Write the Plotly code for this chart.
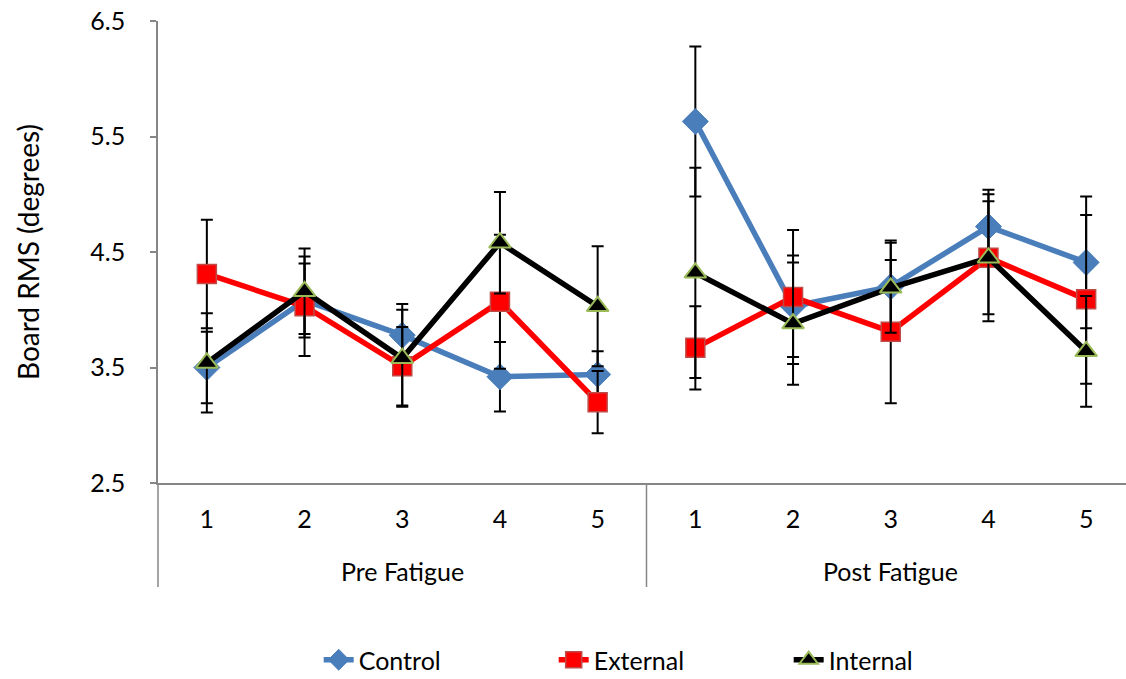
import plotly.graph_objects as go

categories = ["1", "2", "3", "4", "5"]
groups = ["Pre Fatigue", "Post Fatigue"]

control_pre = [3.50, 4.08, 3.78, 3.42, 3.44]
control_post = [5.63, 4.03, 4.20, 4.72, 4.41]
control_pre_err = [0.31, 0.32, 0.27, 0.30, 0.20]
control_post_err = [0.65, 0.44, 0.40, 0.32, 0.57]

external_pre = [4.31, 4.03, 3.51, 4.07, 3.20]
external_post = [3.67, 4.11, 3.81, 4.45, 4.09]
external_pre_err = [0.47, 0.43, 0.34, 0.58, 0.27]
external_post_err = [0.36, 0.58, 0.62, 0.55, 0.73]

internal_pre = [3.54, 4.16, 3.58, 4.58, 4.03]
internal_post = [4.32, 3.88, 4.19, 4.45, 3.64]
internal_pre_err = [0.43, 0.37, 0.42, 0.44, 0.52]
internal_post_err = [0.91, 0.53, 0.39, 0.49, 0.48]

FONT = "Lato"
FS = 25

n = len(categories)
xpos = list(range(n)) + [None] + list(range(n, 2 * n))


def join(pre, post):
    return list(pre) + [None] + list(post)


series = [
    ("Control", control_pre, control_post, control_pre_err, control_post_err,
     "#4A7EBB", dict(symbol="diamond", size=20, color="#4A7EBB", line=dict(color="#4A7EBB", width=1))),
    ("External", external_pre, external_post, external_pre_err, external_post_err,
     "#FF0000", dict(symbol="square", size=19, color="#FF0000", line=dict(color="#BE4B48", width=1.5))),
    ("Internal", internal_pre, internal_post, internal_pre_err, internal_post_err,
     "#000000", dict(symbol="triangle-up", size=19, color="#000000", line=dict(color="#9BBB59", width=2))),
]

fig = go.Figure()
for name, pre, post, epre, epost, col, mk in series:
    fig.add_trace(go.Scatter(
        x=xpos, y=join(pre, post), name=name, mode="lines+markers",
        connectgaps=False,
        line=dict(color=col, width=5.5),
        marker=mk,
        error_y=dict(type="data", array=join(epre, epost), visible=True,
                     color="black", thickness=2, width=6),
    ))

W, H = 1126, 679
L, T, PH = 158, 21, 462
B = H - T - PH
ppu = 97.7
x_right = -0.5 + (W - L) / ppu

fig.update_layout(
    template="none",
    width=W, height=H,
    margin=dict(l=L, r=0, t=T, b=B, pad=0, autoexpand=False),
    plot_bgcolor="white", paper_bgcolor="white",
    font=dict(family=FONT, size=FS, color="black"),
    showlegend=True,
    legend=dict(orientation="h", x=0.166, xref="paper", xanchor="left",
                y=-(660 - 483) / PH, yanchor="middle", font=dict(size=FS, family=FONT),
                entrywidth=190, entrywidthmode="pixels", itemclick=False,
                bgcolor="rgba(0,0,0,0)"),
    xaxis=dict(
        range=[-0.5, x_right],
        tickvals=list(range(2 * n)),
        ticktext=categories + categories,
        showgrid=False, zeroline=False, automargin=False,
        showline=True, linecolor="#868686", linewidth=1.5,
        ticks="", ticklabelstandoff=13,
        tickfont=dict(size=FS, family=FONT),
    ),
    yaxis=dict(
        range=[2.5, 6.5],
        tickvals=[2.5, 3.5, 4.5, 5.5, 6.5],
        ticktext=["2.5", "3.5", "4.5", "5.5", "6.5"],
        showgrid=False, zeroline=False, automargin=False,
        showline=True, linecolor="#868686", linewidth=1.5,
        ticks="outside", ticklen=6, tickcolor="#868686", tickwidth=1.5,
        ticklabelstandoff=20,
        tickfont=dict(size=FS, family=FONT),
        title=dict(text="Board RMS (degrees)", font=dict(size=28, family=FONT), standoff=43),
    ),
)

sep_bottom = -(587 - 483) / PH
fig.add_shape(type="line", xref="paper", yref="paper", x0=0, x1=0, y0=0, y1=sep_bottom,
              line=dict(color="#868686", width=1.5))
fig.add_shape(type="line", xref="x", yref="paper", x0=n - 0.5, x1=n - 0.5, y0=0, y1=sep_bottom,
              line=dict(color="#868686", width=1.5))

group_y = -(571 - 483) / PH
fig.add_annotation(x=(n - 1) / 2, xref="x", y=group_y, yref="paper", text=groups[0],
                   showarrow=False, font=dict(size=FS, family=FONT), yanchor="middle")
fig.add_annotation(x=n + (n - 1) / 2, xref="x", y=group_y, yref="paper", text=groups[1],
                   showarrow=False, font=dict(size=FS, family=FONT), yanchor="middle")

page_css = ("document.documentElement.style.margin='0';"
            "document.documentElement.style.overflow='hidden';"
            "document.body.style.margin='0';"
            "document.body.style.padding='0';"
            "document.body.style.overflow='hidden';")

fig.write_html("out.html", post_script=page_css, config={"displayModeBar": False})
